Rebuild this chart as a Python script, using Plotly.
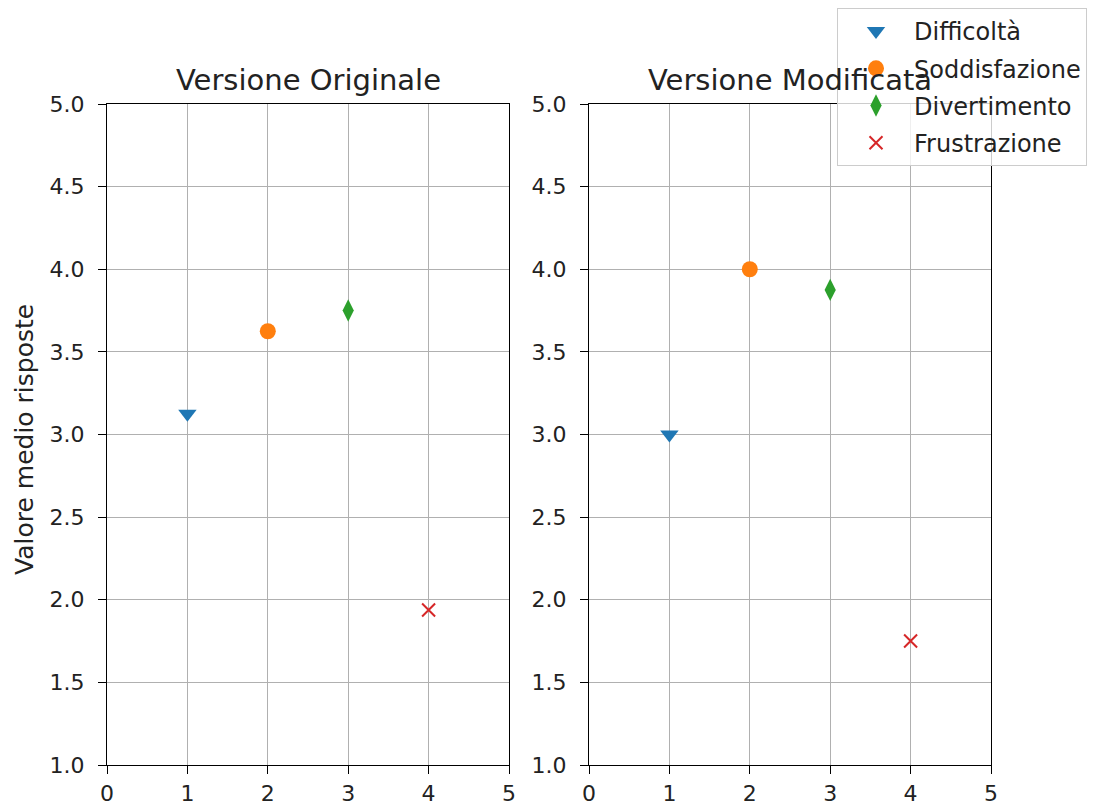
import plotly.graph_objects as go

categorie = ["Difficoltà", "Soddisfazione", "Divertimento", "Frustrazione"]
posizioni = [1, 2, 3, 4]
originale = [3.125, 3.625, 3.75, 1.9375]
modificata = [3.0, 4.0, 3.875, 1.75]
colori = ["#1f77b4", "#ff7f0e", "#2ca02c", "#d62728"]
simboli = ["triangle-down", "circle", "diamond-tall", "x-thin"]
titoli = ["Versione Originale", "Versione Modificata"]
etichetta_y = "Valore medio risposte"
x_ticks = [0, 1, 2, 3, 4, 5]
y_ticks = [1.0, 1.5, 2.0, 2.5, 3.0, 3.5, 4.0, 4.5, 5.0]

W, H = 1100, 807
font = "DejaVu Sans"
TICK = 22

fig = go.Figure()

for i, cat in enumerate(categorie):
    sym = simboli[i]
    size = {"triangle-down": 16, "circle": 16, "diamond-tall": 16, "x-thin": 13}[sym]
    line = dict(width=0)
    if sym == "x-thin":
        line = dict(width=2, color=colori[i])
    mk = dict(symbol=sym, size=size, color=colori[i], line=line)
    fig.add_trace(go.Scatter(
        x=[posizioni[i]], y=[originale[i]], mode="markers", name=cat,
        legendgroup=cat, showlegend=True, marker=mk, xaxis="x", yaxis="y"))
    fig.add_trace(go.Scatter(
        x=[posizioni[i]], y=[modificata[i]], mode="markers", name=cat,
        legendgroup=cat, showlegend=False, marker=mk, xaxis="x2", yaxis="y2"))

yd = [1 - 765 / H, 1 - 104 / H]
axis_common = dict(
    showline=True, linecolor="black", linewidth=1.3, mirror=True,
    showgrid=True, gridcolor="#b0b0b0", gridwidth=1.3,
    ticks="outside", ticklen=8, tickwidth=1.3, tickcolor="black",
    tickfont=dict(family=font, size=TICK, color="#222222"),
    zeroline=False, automargin=False,
)
fig.update_layout(
    xaxis=dict(domain=[107 / W, 509 / W], range=[0, 5], tickvals=x_ticks, anchor="y", **axis_common),
    yaxis=dict(domain=yd, range=[1, 5], tickvals=y_ticks, tickformat=".1f", anchor="x",
               ticklabelstandoff=9, **axis_common),
    xaxis2=dict(domain=[589 / W, 991 / W], range=[0, 5], tickvals=x_ticks, anchor="y2", **axis_common),
    yaxis2=dict(domain=yd, range=[1, 5], tickvals=y_ticks, tickformat=".1f", anchor="x2",
                ticklabelstandoff=9, **axis_common),
    width=W, height=H,
    margin=dict(l=0, r=0, t=0, b=0, autoexpand=False),
    paper_bgcolor="white", plot_bgcolor="white",
    font=dict(family=font, color="#222222"),
    legend=dict(
        x=837 / W, y=1 - 8 / H, xanchor="left", yanchor="top",
        bgcolor="rgba(255,255,255,0.8)", bordercolor="#cccccc", borderwidth=1,
        font=dict(family=font, size=24, color="#222222"),
        tracegroupgap=3, itemwidth=66,
    ),
)

centers = [(107 + 509) / 2 / W, (589 + 991) / 2 / W]
for c, t in zip(centers, titoli):
    fig.add_annotation(text=t, x=c, y=1 - 80 / H, xref="paper", yref="paper",
                       xanchor="center", yanchor="middle", showarrow=False,
                       font=dict(family=font, size=29, color="#222222"))

fig.add_annotation(text=etichetta_y, x=24 / W, y=1 - 440 / H, xref="paper", yref="paper",
                   xanchor="center", yanchor="middle", showarrow=False, textangle=-90,
                   font=dict(family=font, size=25, color="#222222"))

fig.write_html("out.html")
